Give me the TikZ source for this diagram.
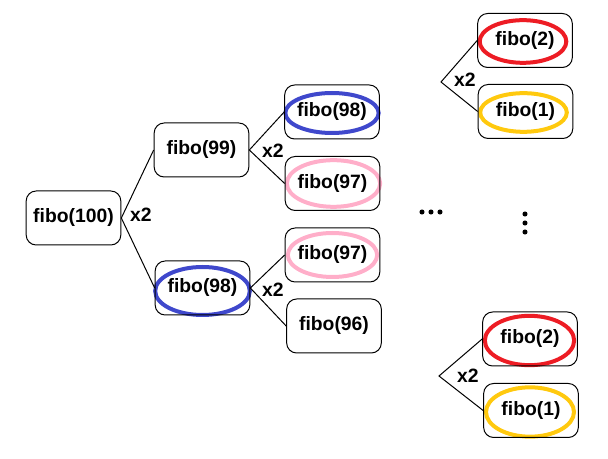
\documentclass[tikz,border=0pt]{standalone}
\usepackage{fontspec}
\setmainfont{Liberation Sans}
\definecolor{paintblue}{RGB}{63,72,204}
\definecolor{paintpink}{RGB}{255,174,201}
\definecolor{paintred}{RGB}{237,28,36}
\definecolor{paintyellow}{RGB}{255,201,14}
\tikzset{
  fibobox/.style={draw, line width=0.75pt, rounded corners=7.5pt, minimum width=71pt, minimum height=40.5pt,
    inner sep=0pt, font=\fontsize{14.5}{16}\selectfont\bfseries},
  timeslabel/.style={font=\fontsize{14.5}{16}\selectfont\bfseries, inner sep=0pt},
  oval/.style={draw=#1, line width=3pt},
  branch/.style={line width=0.75pt},
  dot/.style={fill=black}
}
\begin{document}
\begin{tikzpicture}[x=0.75pt, y=-0.75pt]
\useasboundingbox (0,0) rectangle (608,459);

% ovals first, boxes and text on top
\draw[oval=paintblue] (332,113) ellipse [x radius=35pt, y radius=15pt];
\draw[oval=paintpink] (333.5,183.5) ellipse [x radius=35pt, y radius=17.5pt];
\draw[oval=paintblue] (202.5,291) ellipse [x radius=35.5pt, y radius=18pt];
\draw[oval=paintpink] (332.5,255) ellipse [x radius=33.5pt, y radius=16.5pt];
\draw[oval=paintred] (523,41.5) ellipse [x radius=32.5pt, y radius=16pt];
\draw[oval=paintyellow] (523.5,112.5) ellipse [x radius=32.5pt, y radius=14.5pt];
\draw[oval=paintred] (529.5,340.5) ellipse [x radius=33.5pt, y radius=18.5pt];
\draw[oval=paintyellow] (530,412) ellipse [x radius=33pt, y radius=18.5pt];

\node[fibobox] (f100) at (73.5,218) {fibo(100)};
\node[fibobox] (f99) at (201.5,150) {fibo(99)};
\node[fibobox] (f98b) at (202.5,288) {fibo(98)};

\node[fibobox] (f98a) at (332,112) {fibo(98)};
\node[fibobox] (f97a) at (332.5,183.5) {fibo(97)};
\node[fibobox] (f97b) at (332.5,255) {fibo(97)};
\node[fibobox] (f96) at (334,326) {fibo(96)};

\node[fibobox] (f2a) at (525,40.5) {fibo(2)};
\node[fibobox] (f1a) at (525.5,111.5) {fibo(1)};
\node[fibobox] (f2b) at (530,339) {fibo(2)};
\node[fibobox] (f1b) at (531,410.5) {fibo(1)};

\coordinate (br1) at (441,82);
\coordinate (br2) at (439,376);

\draw[branch] (f99.west) -- (f100.east) -- (f98b.west);
\draw[branch] (f98a.west) -- (f99.east) -- (f97a.west);
\draw[branch] (f97b.west) -- (f98b.east) -- (f96.west);
\draw[branch] (f2a.west) -- (br1) -- (f1a.west);
\draw[branch] (f2b.west) -- (br2) -- (f1b.west);

\node[timeslabel] (t1) at (141,215) {x2};
\node[timeslabel] (t2) at (273,151) {x2};
\node[timeslabel] (t3) at (273,290) {x2};
\node[timeslabel] (t4) at (465,80) {x2};
\node[timeslabel] (t5) at (468,376) {x2};

% dots
\foreach \x in {422,431,440}
  \fill[dot] (\x,212) circle (1.9pt);
\foreach \y in {214,223,232}
  \fill[dot] (525,\y) circle (1.9pt);

\end{tikzpicture}
\end{document}
